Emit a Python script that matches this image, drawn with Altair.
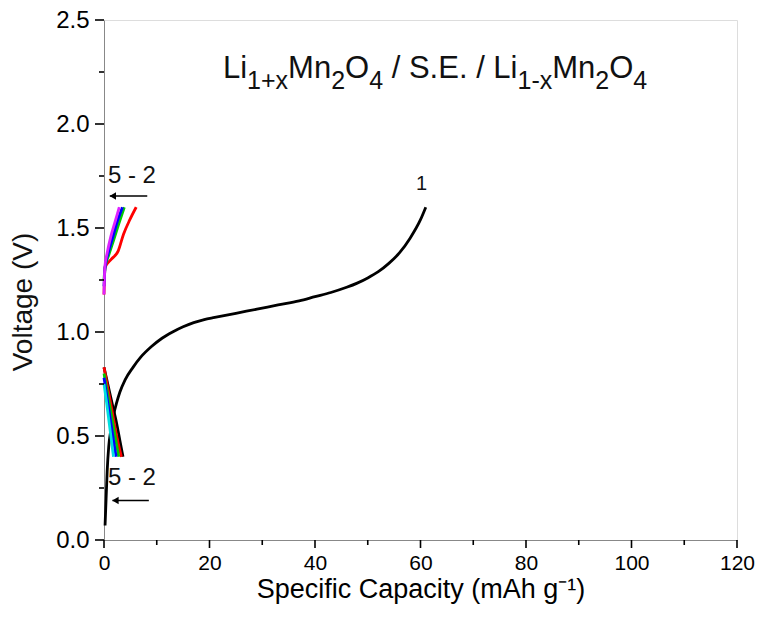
import altair as alt
import pandas as pd

# ---- galvanostatic curves (capacity in mAh/g, voltage in V) ----
c1_charge_cap = [0.2, 0.4, 0.6, 0.9, 1.3, 1.8, 2.4, 3.0, 4.0, 5.5, 7.0, 9.0, 11.0, 13.0, 15.0, 17.0, 19.0,
                 21.0, 25.0, 29.0, 33.0, 37.0, 40.0, 43.0, 46.0, 48.0, 50.0, 52.0, 54.0, 56.0, 58.0, 60.0, 61.0]
c1_charge_v = [0.07, 0.20, 0.33, 0.45, 0.53, 0.60, 0.66, 0.71, 0.77, 0.83, 0.88, 0.93, 0.97, 1.00, 1.025, 1.045,
               1.06, 1.07, 1.09, 1.11, 1.13, 1.15, 1.17, 1.19, 1.215, 1.235, 1.26, 1.29, 1.33, 1.38, 1.45,
               1.54, 1.60]
c1_dis_cap = [0.0, 0.8, 1.6, 2.4, 3.0, 3.6]
c1_dis_v = [0.83, 0.74, 0.65, 0.56, 0.48, 0.40]

c2_charge_cap = [0.0, 0.2, 1.4, 2.7, 3.7, 4.9, 6.1]
c2_charge_v = [1.18, 1.31, 1.35, 1.39, 1.47, 1.54, 1.60]
c2_dis_cap = [0.0, 0.8, 1.6, 2.4, 3.3]
c2_dis_v = [0.83, 0.72, 0.61, 0.50, 0.40]

c3_charge_cap = [0.0, 0.2, 0.9, 1.8, 2.8, 3.85]
c3_charge_v = [1.25, 1.31, 1.37, 1.44, 1.52, 1.60]
c3_dis_cap = [0.0, 0.7, 1.4, 2.1, 2.8]
c3_dis_v = [0.80, 0.70, 0.60, 0.50, 0.40]

c4_charge_cap = [0.0, 0.2, 0.8, 1.6, 2.5, 3.5]
c4_charge_v = [1.22, 1.31, 1.38, 1.45, 1.53, 1.60]
c4_dis_cap = [0.0, 0.6, 1.2, 1.8, 2.3]
c4_dis_v = [0.78, 0.68, 0.58, 0.48, 0.40]

c5_charge_cap = [0.0, 0.15, 0.6, 1.3, 2.1, 2.9]
c5_charge_v = [1.18, 1.31, 1.38, 1.46, 1.53, 1.60]
c5_dis_cap = [0.0, 0.5, 1.0, 1.4, 1.8]
c5_dis_v = [0.75, 0.66, 0.56, 0.48, 0.40]

curves = [
    ("1 charge", c1_charge_cap, c1_charge_v, "#000000"),
    ("1 discharge", c1_dis_cap, c1_dis_v, "#000000"),
    ("2 charge", c2_charge_cap, c2_charge_v, "#ff0000"),
    ("2 discharge", c2_dis_cap, c2_dis_v, "#ff0000"),
    ("3 charge", c3_charge_cap, c3_charge_v, "#00cc00"),
    ("3 discharge", c3_dis_cap, c3_dis_v, "#00cc00"),
    ("4 charge", c4_charge_cap, c4_charge_v, "#0000ff"),
    ("4 discharge", c4_dis_cap, c4_dis_v, "#0000ff"),
    ("5 charge", c5_charge_cap, c5_charge_v, "#dd22ff"),
    ("5 discharge", c5_dis_cap, c5_dis_v, "#00e0e0"),
]

# annotations
cycle_labels = ["1", "5 - 2", "5 - 2"]
cycle_label_cap = [60.2, 5.3, 5.3]
cycle_label_v = [1.71, 1.75, 0.30]
cycle_label_size = [20, 24, 24]

arrow_start = [8.2, 8.5]
arrow_tip = [1.1, 1.6]
arrow_v = [1.654, 0.19]

# axis ticks
x_major = [0, 20, 40, 60, 80, 100, 120]
x_minor = [10, 30, 50, 70, 90, 110]
y_major = [0.0, 0.5, 1.0, 1.5, 2.0, 2.5]
y_minor = [0.25, 0.75, 1.25, 1.75, 2.25]

# ---- assemble tables ----
rows = []
for name, caps, volts, _ in curves:
    for i, (c, v) in enumerate(zip(caps, volts)):
        rows.append({"curve": name, "cap": c, "volt": v, "idx": i})
df = pd.DataFrame(rows)

names = [c[0] for c in curves]
colors = [c[3] for c in curves]

FONT = "Liberation Sans"
W, H = 633, 520

x_scale = alt.Scale(domain=[0, 120], nice=False)
y_scale = alt.Scale(domain=[0, 2.5], nice=False)

x_axis = alt.Axis(
    values=x_major, ticks=False, grid=False, labelFlush=False,
    title="Specific Capacity (mAh g\u207b\u00b9)",
    labelFontSize=21, titleFontSize=27, labelPadding=12, titlePadding=3,
    titleFontWeight="normal", labelFont=FONT, titleFont=FONT,
)
y_axis = alt.Axis(
    values=y_major, format=".1f", ticks=False, grid=False, title=None, labelFlush=False,
    labelFontSize=24, labelPadding=15, labelFont=FONT,
)

lines = alt.Chart(df).mark_line(strokeWidth=2.8, strokeJoin="round", interpolate="monotone").encode(
    x=alt.X("cap:Q", scale=x_scale, axis=x_axis),
    y=alt.Y("volt:Q", scale=y_scale, axis=y_axis),
    color=alt.Color("curve:N", scale=alt.Scale(domain=names, range=colors), legend=None),
    detail="curve:N",
    order="idx:Q",
)

# outward tick marks (long at labelled values, short in between)
def x_ticks(vals, length):
    return alt.Chart(pd.DataFrame({"v": vals})).mark_rule(color="black", strokeWidth=1.6).encode(
        x=alt.X("v:Q", scale=x_scale), y=alt.value(H), y2=alt.value(H + length))

def y_ticks(vals, length):
    return alt.Chart(pd.DataFrame({"v": vals})).mark_rule(color="black", strokeWidth=1.6).encode(
        y=alt.Y("v:Q", scale=y_scale), x=alt.value(0), x2=alt.value(-length))

ticks = [x_ticks(x_major, 8), x_ticks(x_minor, 5), y_ticks(y_major, 9), y_ticks(y_minor, 5)]

# vertical axis title, placed a little below the axis centre
y_title = alt.Chart(pd.DataFrame({"t": ["Voltage (V)"]})).mark_text(
    font=FONT, fontSize=28, angle=270, align="center", baseline="middle", color="#111"
).encode(x=alt.value(-80), y=alt.value(282), text="t:N")

lab_df = pd.DataFrame({"text": cycle_labels, "cap": cycle_label_cap,
                       "volt": cycle_label_v, "size": cycle_label_size})
labels = alt.Chart(lab_df).mark_text(font=FONT, align="center", baseline="middle", color="#111").encode(
    x=alt.X("cap:Q", scale=x_scale),
    y=alt.Y("volt:Q", scale=y_scale),
    text="text:N",
    size=alt.Size("size:Q", scale=None, legend=None),
)

arr_df = pd.DataFrame({"x0": arrow_start, "x1": arrow_tip, "v": arrow_v})
arrow_shaft = alt.Chart(arr_df).mark_rule(color="black", strokeWidth=1.6).encode(
    x=alt.X("x1:Q", scale=x_scale), x2="x0:Q", y=alt.Y("v:Q", scale=y_scale),
)
arrow_head = alt.Chart(arr_df).mark_point(
    shape="triangle-left", filled=True, color="black", size=55, opacity=1, xOffset=3
).encode(
    x=alt.X("x1:Q", scale=x_scale), y=alt.Y("v:Q", scale=y_scale),
)

# ---- cell formula header with subscripts ----
# (text, is_subscript, gap before the piece in em)
formula = [("Li", False, 0), ("1+x", True, 0), ("Mn", False, 0), ("2", True, 0), ("O", False, 0),
           ("4", True, 0), ("/ S.E. / Li", False, 0.278), ("1-x", True, 0), ("Mn", False, 0),
           ("2", True, 0), ("O", False, 0), ("4", True, 0)]
ADV = {"L": 556, "i": 222, "M": 833, "n": 556, "O": 778, " ": 278, "/": 278, "S": 667,
       ".": 278, "E": 667, "1": 556, "2": 556, "4": 556, "+": 584, "-": 333, "x": 500}
MAIN_SIZE, SUB_SIZE = 31, 25
x_pos = 119
base_y = 58
formula_layers = []
for txt, sub, gap in formula:
    size = SUB_SIZE if sub else MAIN_SIZE
    x_pos += gap * size
    formula_layers.append(
        alt.Chart(pd.DataFrame({"t": [txt]})).mark_text(
            font=FONT, fontSize=size, align="left", baseline="alphabetic", color="#111"
        ).encode(x=alt.value(x_pos), y=alt.value(base_y + (11 if sub else 0)), text="t:N")
    )
    x_pos += sum(ADV[ch] for ch in txt) * size / 1000.0

chart = alt.layer(lines, *ticks, arrow_shaft, arrow_head, labels, y_title, *formula_layers).properties(
    width=W, height=H,
    autosize=alt.AutoSizeParams(type="none"),
    padding={"left": 104, "top": 20, "right": 22, "bottom": 77},
).configure_view(
    stroke="black", strokeWidth=1.6,
).configure_axis(
    domainColor="black", domainWidth=1.6,
    labelColor="#111", titleColor="#111",
).configure(background="white")

chart.save("out.html", embed_options={"renderer": "svg", "actions": False})
